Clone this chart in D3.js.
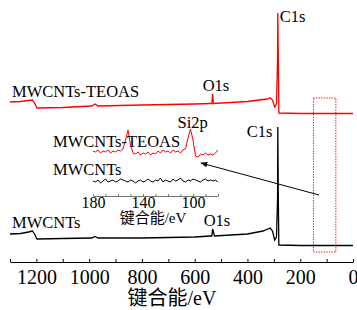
<!DOCTYPE html>
<html>
<head>
<meta charset="utf-8">
<script src="https://cdn.jsdelivr.net/npm/d3@7"></script>
<style>
  body { margin: 0; background: #fff; }
  text { font-family: "Liberation Serif", "Times New Roman", "DejaVu Serif", serif, "Noto Sans CJK SC"; }
</style>
</head>
<body>
<div id="chart"></div>
<script>
// survey spectra: [binding energy eV, intensity a.u.]
const teoasSurvey = [
  [1300, 64.0], [1260, 64.2], [1230, 64.6], [1215, 64.8], [1207, 63.6], [1198, 61.6],
  [1100, 61.8], [990, 62.4], [978, 63.2], [966, 62.4], [800, 62.8], [600, 63.2],
  [540, 63.4], [535, 63.4], [532, 67.2], [529, 63.4], [400, 64.2], [341, 65.0],
  [325, 65.2], [314, 65.7], [305, 64.8], [297, 62.0], [290, 63.2], [286, 80.8],
  [285, 99.6], [283, 80.8], [281, 59.6], [200, 59.4], [0, 59.4]
];
const cntSurvey = [
  [1300, 11.2], [1260, 11.4], [1230, 12.0], [1215, 12.4], [1207, 11.2], [1198, 9.2],
  [1100, 9.4], [990, 9.6], [978, 10.2], [966, 9.6], [800, 9.6], [600, 10.0],
  [540, 10.4], [535, 10.4], [532, 13.2], [525, 10.4], [400, 11.2], [341, 12.4],
  [314, 13.6], [305, 12.4], [297, 8.8], [290, 10.0], [286, 24.8], [285, 54.0],
  [283, 24.8], [281, 6.8], [200, 6.6], [0, 6.6]
];

// inset, 180 -> 80 eV in 2 eV steps
const insetEnergy = d3.range(180, 79, -2);
const teoasInset = [
  18.0, 17.6, 18.4, 17.2, 18.0, 17.6, 18.4, 17.2, 18.0, 17.6, 18.4, 18.0, 18.8,
  22.4, 26.4, 20.4, 17.2, 16.8, 17.6, 16.4, 17.2, 16.8, 17.6, 16.4, 17.2, 16.8,
  18.0, 17.2, 18.4, 17.6, 18.0, 17.2, 18.4, 17.6, 18.0, 17.2, 18.4, 18.8, 23.2,
  26.8, 22.4, 16.0, 15.6, 16.8, 16.4, 17.2, 16.4, 16.8, 16.4, 17.2, 18.4
];
const cntInset = [
  6.0, 5.6, 6.4, 5.2, 6.0, 6.8, 5.6, 6.0, 6.4, 5.6, 6.0, 6.8, 6.4, 6.0, 5.6,
  6.4, 6.0, 5.2, 6.0, 6.4, 5.6, 6.0, 6.8, 6.0, 5.6, 6.4, 6.0, 7.2, 5.6, 6.4,
  6.0, 5.6, 6.8, 6.0, 6.4, 7.2, 6.0, 5.6, 6.4, 6.0, 6.8, 6.4, 6.0, 5.6, 6.4,
  6.8, 6.0, 6.4, 6.0, 6.4, 5.6
];

const mainTicks = [1200, 1000, 800, 600, 400, 200, 0];
const insetTickLabels = [180, 140, 100];

const serif = '"Liberation Serif", "Times New Roman", "DejaVu Serif", serif';
const width = 357, height = 310;

const svg = d3.select("#chart")
  .append("svg")
  .attr("width", width)
  .attr("height", height);

const x = d3.scaleLinear().domain([1300, 0]).range([10, 353]);
const y = d3.scaleLinear().domain([0, 100]).range([262, 12]);

const xi = d3.scaleLinear().domain([180, 80]).range([93, 218]);
const yi = d3.scaleLinear().domain([0, 30]).range([196, 121]);

// main axis
const axisMain = svg.append("g")
  .attr("transform", `translate(0, ${y(0)})`)
  .call(d3.axisBottom(x).tickValues(d3.range(1300, -1, -100)).tickSize(-3).tickSizeOuter(0)
    .tickFormat(d => mainTicks.includes(d) ? d : ""));
axisMain.attr("font-family", null);
axisMain.select(".domain").attr("stroke", "#000").attr("stroke-width", 1.2);
axisMain.selectAll(".tick line").attr("stroke", "#000");
axisMain.selectAll(".tick text")
  .attr("y", 8)
  .attr("fill", "#000")
  .style("font-size", "20px")
  .style("font-family", serif);

svg.append("text")
  .attr("x", 172).attr("y", 305)
  .attr("text-anchor", "middle")
  .style("font-size", "20px")
  .text("键合能/eV");

const line = d3.line().x(d => x(d[0])).y(d => y(d[1]));

svg.append("path")
  .datum(teoasSurvey)
  .attr("d", line)
  .attr("fill", "none")
  .attr("stroke", "#ff0000")
  .attr("stroke-width", 1.3);

svg.append("path")
  .datum(cntSurvey)
  .attr("d", line)
  .attr("fill", "none")
  .attr("stroke", "#000")
  .attr("stroke-width", 1.3);

// dotted zoom box
svg.append("rect")
  .attr("x", x(150)).attr("y", 98)
  .attr("width", x(65) - x(150)).attr("height", 154)
  .attr("fill", "none")
  .attr("stroke", "#ff0000")
  .attr("stroke-width", 1)
  .attr("stroke-dasharray", "1.3,1.3");

// arrow
svg.append("defs").append("marker")
  .attr("id", "arrow")
  .attr("viewBox", "0 0 10 10")
  .attr("refX", 9).attr("refY", 5)
  .attr("markerWidth", 7).attr("markerHeight", 7)
  .attr("orient", "auto")
  .append("path")
  .attr("d", "M0,1 L10,5 L0,9 Z")
  .attr("fill", "#000");

svg.append("line")
  .attr("x1", 319).attr("y1", 195)
  .attr("x2", 201).attr("y2", 163)
  .attr("stroke", "#000")
  .attr("stroke-width", 1)
  .attr("marker-end", "url(#arrow)");

// inset
const axisInset = svg.append("g")
  .attr("transform", `translate(0, ${yi(0)})`)
  .call(d3.axisBottom(xi).tickValues(d3.range(180, 79, -10)).tickSize(-2).tickSizeOuter(0)
    .tickFormat(d => insetTickLabels.includes(d) ? d : ""));
axisInset.attr("font-family", null);
axisInset.select(".domain").attr("stroke", "#777").attr("stroke-width", 1);
axisInset.selectAll(".tick line").attr("stroke", "#777");
axisInset.selectAll(".tick text")
  .attr("y", 1)
  .attr("fill", "#000")
  .style("font-size", "16px")
  .style("font-family", serif);

svg.append("text")
  .attr("x", 153).attr("y", 223)
  .attr("text-anchor", "middle")
  .style("font-size", "15px")
  .text("键合能/eV");

const lineInset = d3.line().x((d, i) => xi(insetEnergy[i])).y(d => yi(d));

svg.append("path")
  .datum(teoasInset)
  .attr("d", lineInset)
  .attr("fill", "none")
  .attr("stroke", "#ff0000")
  .attr("stroke-width", 1);

svg.append("path")
  .datum(cntInset)
  .attr("d", lineInset)
  .attr("fill", "none")
  .attr("stroke", "#000")
  .attr("stroke-width", 1);

// labels
const labels = [
  {t: "MWCNTs-TEOAS", x: 12, y: 97},
  {t: "O1s", x: x(532) - 10, y: 91},
  {t: "C1s", x: x(285) + 2, y: 22},
  {t: "MWCNTs-TEOAS", x: 53, y: 147},
  {t: "Si2p", x: xi(102) - 13, y: 128},
  {t: "MWCNTs", x: 53, y: 175},
  {t: "C1s", x: x(285) - 31, y: 137},
  {t: "MWCNTs", x: 12, y: 228},
  {t: "O1s", x: x(532) - 9, y: 226}
];
svg.selectAll(".lbl")
  .data(labels)
  .join("text")
  .attr("class", "lbl")
  .attr("x", d => d.x)
  .attr("y", d => d.y)
  .style("font-size", "16.5px")
  .style("font-family", serif)
  .text(d => d.t);
</script>
</body>
</html>
